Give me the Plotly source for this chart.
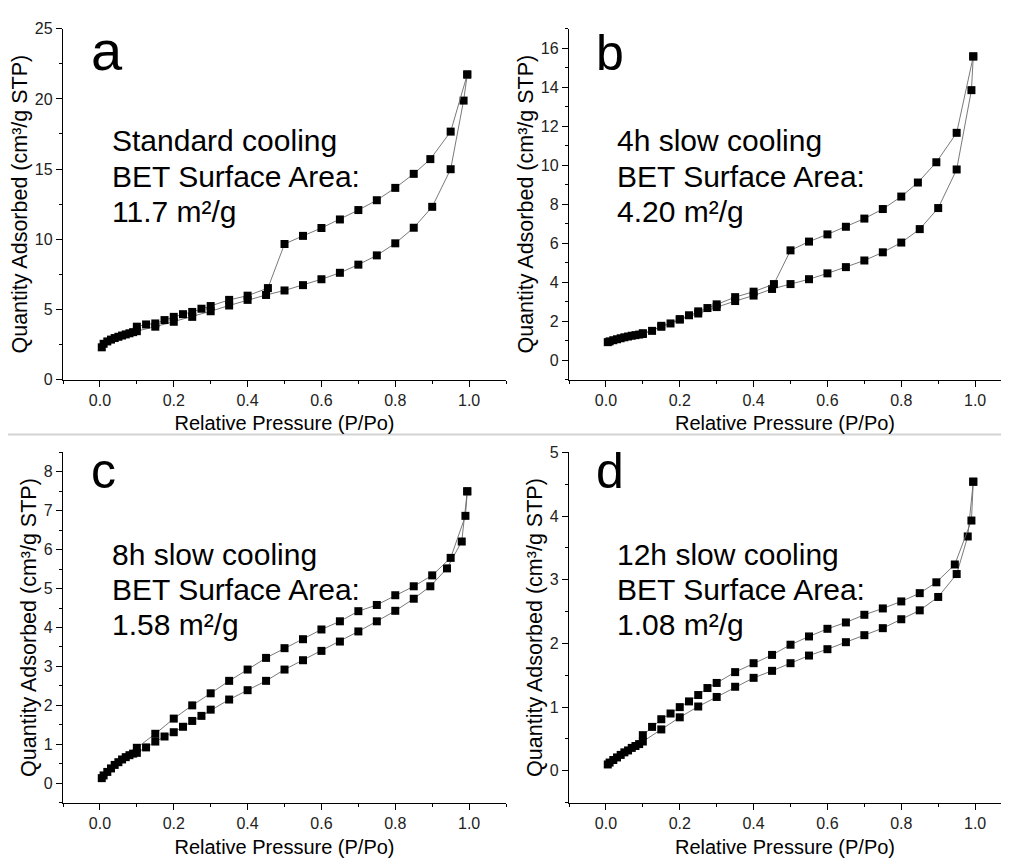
import plotly.graph_objects as go

# ---------------- data ----------------
# Panel a : Standard cooling
a_ads_p = [0.005, 0.01, 0.02, 0.03, 0.04, 0.05, 0.06, 0.07, 0.08, 0.09, 0.1, 0.15, 0.2, 0.25, 0.3,
           0.35, 0.4, 0.45, 0.5, 0.55, 0.6, 0.65, 0.7, 0.75, 0.8, 0.85, 0.9, 0.95, 0.985, 0.995]
a_ads_q = [2.3, 2.55, 2.72, 2.85, 2.96, 3.05, 3.14, 3.22, 3.3, 3.38, 3.45, 3.77, 4.12, 4.47, 4.87,
           5.28, 5.68, 6.03, 6.35, 6.73, 7.15, 7.61, 8.19, 8.85, 9.71, 10.82, 12.31, 14.99, 19.88, 21.74]
a_des_p = [0.995, 0.95, 0.895, 0.85, 0.8, 0.75, 0.7, 0.65, 0.6, 0.55, 0.5, 0.455, 0.4, 0.35, 0.3,
           0.275, 0.25, 0.225, 0.2, 0.175, 0.15, 0.125, 0.1]
a_des_q = [21.74, 17.67, 15.71, 14.66, 13.66, 12.78, 12.08, 11.41, 10.80, 10.24, 9.66, 6.52, 5.98, 5.68, 5.24,
           5.05, 4.82, 4.66, 4.47, 4.24, 4.0, 3.93, 3.77]

# Panel b : 4h slow cooling
b_ads_p = [0.005, 0.01, 0.02, 0.03, 0.04, 0.05, 0.06, 0.07, 0.08, 0.09, 0.1, 0.15, 0.2, 0.25, 0.3,
           0.35, 0.4, 0.45, 0.5, 0.55, 0.6, 0.65, 0.7, 0.75, 0.8, 0.85, 0.9, 0.95, 0.99, 0.995]
b_ads_q = [0.92, 0.96, 1.02, 1.07, 1.12, 1.17, 1.21, 1.25, 1.28, 1.31, 1.34, 1.71, 2.08, 2.39, 2.72,
           3.03, 3.31, 3.65, 3.90, 4.15, 4.45, 4.77, 5.11, 5.53, 6.03, 6.72, 7.80, 9.78, 13.85, 15.58]
b_des_p = [0.995, 0.95, 0.895, 0.845, 0.8, 0.75, 0.7, 0.65, 0.6, 0.55, 0.5, 0.455, 0.4, 0.35, 0.3,
           0.275, 0.25, 0.225, 0.2, 0.175, 0.15, 0.125, 0.1]
b_des_q = [15.58, 11.66, 10.15, 9.11, 8.39, 7.75, 7.26, 6.84, 6.45, 6.08, 5.63, 3.90, 3.51, 3.23, 2.86,
           2.67, 2.50, 2.30, 2.10, 1.88, 1.76, 1.50, 1.38]

# Panel c : 8h slow cooling
c_ads_p = [0.005, 0.01, 0.02, 0.03, 0.04, 0.05, 0.06, 0.07, 0.08, 0.09, 0.1, 0.125, 0.15, 0.175, 0.2,
           0.225, 0.25, 0.275, 0.3, 0.35, 0.4, 0.45, 0.5, 0.55, 0.6, 0.65, 0.7, 0.75, 0.8, 0.85, 0.895,
           0.94, 0.98, 0.995]
c_ads_q = [0.13, 0.2, 0.29, 0.38, 0.47, 0.54, 0.61, 0.67, 0.72, 0.76, 0.78, 0.92, 1.07, 1.20, 1.31,
           1.45, 1.60, 1.73, 1.89, 2.15, 2.39, 2.63, 2.92, 3.16, 3.40, 3.64, 3.90, 4.16, 4.43, 4.74, 5.06,
           5.52, 6.21, 7.50]
c_des_p = [0.995, 0.99, 0.95, 0.9, 0.85, 0.8, 0.75, 0.7, 0.65, 0.6, 0.55, 0.5, 0.45, 0.4, 0.35,
           0.3, 0.25, 0.2, 0.15, 0.1]
c_des_q = [7.50, 6.87, 5.79, 5.34, 5.06, 4.83, 4.58, 4.42, 4.16, 3.95, 3.70, 3.47, 3.22, 2.92, 2.63,
           2.31, 2.00, 1.66, 1.27, 0.91]

# Panel d : 12h slow cooling
d_ads_p = [0.005, 0.01, 0.02, 0.03, 0.04, 0.05, 0.06, 0.07, 0.08, 0.09, 0.1, 0.15, 0.2, 0.25, 0.3,
           0.35, 0.4, 0.45, 0.5, 0.55, 0.6, 0.65, 0.7, 0.75, 0.8, 0.85, 0.9, 0.95, 0.98, 0.995]
d_ads_q = [0.10, 0.13, 0.17, 0.21, 0.25, 0.29, 0.32, 0.36, 0.39, 0.42, 0.46, 0.65, 0.84, 1.01, 1.16,
           1.32, 1.46, 1.57, 1.69, 1.81, 1.91, 2.02, 2.13, 2.24, 2.38, 2.52, 2.73, 3.09, 3.68, 4.54]
d_des_p = [0.995, 0.99, 0.945, 0.895, 0.85, 0.8, 0.75, 0.7, 0.65, 0.6, 0.55, 0.5, 0.45, 0.4, 0.35,
           0.3, 0.275, 0.25, 0.225, 0.2, 0.175, 0.15, 0.125, 0.1]
d_des_q = [4.54, 3.93, 3.24, 2.96, 2.79, 2.66, 2.55, 2.45, 2.33, 2.23, 2.11, 1.98, 1.82, 1.69, 1.55,
           1.38, 1.30, 1.19, 1.09, 1.00, 0.90, 0.81, 0.69, 0.56]

panel_letters = ["a", "b", "c", "d"]
panel_lines = [
    ["Standard cooling", "BET Surface Area:", "11.7 m²/g"],
    ["4h slow cooling", "BET Surface Area:", "4.20 m²/g"],
    ["8h slow cooling", "BET Surface Area:", "1.58 m²/g"],
    ["12h slow cooling", "BET Surface Area:", "1.08 m²/g"],
]
x_title = "Relative Pressure (P/Po)"
y_title = "Quantity Adsorbed (cm³/g STP)"

# ---------------- layout geometry ----------------
PAGE_W, PAGE_H = 1009, 867
OFF = 8                      # default body margin of the html page
W, H = PAGE_W - 2 * OFF, PAGE_H - 2 * OFF
FONT = "Arial, Liberation Sans, sans-serif"


def px(X):
    return (X - OFF) / W


def py(Y):
    return 1 - (Y - OFF) / H


panels = [
    dict(data=(a_ads_p, a_ads_q, a_des_p, a_des_q), xpx=(63, 506), ypx=(21, 379),
         yr=[0, 25], dy=5, mdy=2.5),
    dict(data=(b_ads_p, b_ads_q, b_des_p, b_des_q), xpx=(569, 1001), ypx=(21, 379),
         yr=[-1, 17], dy=2, mdy=1),
    dict(data=(c_ads_p, c_ads_q, c_des_p, c_des_q), xpx=(63, 506), ypx=(453.3, 810.7),
         yr=[-0.5, 8.5], dy=1, mdy=0.5),
    dict(data=(d_ads_p, d_ads_q, d_des_p, d_des_q), xpx=(569, 1001), ypx=(453.3, 810.7),
         yr=[-0.5, 5], dy=1, mdy=0.5),
]
XSCALE = 369.2  # px per unit of P/Po

fig = go.Figure()
layout = dict(
    width=W, height=H, margin=dict(l=0, r=0, t=0, b=0),
    paper_bgcolor="white", plot_bgcolor="white", showlegend=False,
    font=dict(family=FONT, color="black"),
)
annotations = []

for i, p in enumerate(panels):
    n = "" if i == 0 else str(i + 1)
    xa, ya = "x" + n, "y" + n
    ads_p, ads_q, des_p, des_q = p["data"]
    for xs, ys in ((ads_p, ads_q), (des_p, des_q)):
        fig.add_trace(go.Scatter(
            x=xs, y=ys, xaxis=xa, yaxis=ya, mode="lines+markers",
            line=dict(color="#6a6a6a", width=0.9),
            marker=dict(symbol="square", size=8, color="black", line=dict(width=0)),
            cliponaxis=False,
        ))
    x0, x1 = p["xpx"]
    y0, y1 = p["ypx"]
    xr = [-0.1, -0.1 + (x1 - x0) / XSCALE]
    common = dict(showgrid=False, zeroline=False, showline=True, linecolor="black", linewidth=1.3,
                  ticks="outside", ticklen=6, tickwidth=1, tickcolor="black",
                  tickfont=dict(size=16, color="#222222", family=FONT))
    layout["xaxis" + n] = dict(
        common, domain=[px(x0), px(x1)], range=xr, anchor=ya,
        tickmode="linear", tick0=0, dtick=0.2, tickformat=".1f",
        minor=dict(ticks="outside", ticklen=3, tickcolor="black", dtick=0.1, tick0=0),
        title=dict(text=x_title, font=dict(size=20, family=FONT), standoff=8),
    )
    layout["yaxis" + n] = dict(
        common, domain=[py(y1), py(y0)], range=p["yr"], anchor=xa,
        tickmode="linear", tick0=0, dtick=p["dy"],
        minor=dict(ticks="outside", ticklen=3, tickcolor="black", dtick=p["mdy"], tick0=0),
        title=dict(text=y_title, font=dict(size=21.5, family=FONT), standoff=1),
    )
    left = i % 2 == 0
    top = i < 2
    # panel letter (baseline at 63 / 490 in page pixels)
    fs = 56 if i == 0 else 50
    base = 63 if top else 490
    annotations.append(dict(
        text=panel_letters[i], xref="paper", yref="paper",
        x=px(89 if left else 594), y=py(base - 0.35 * fs),
        xanchor="left", yanchor="middle", showarrow=False,
        font=dict(size=fs, family=FONT, color="black"),
    ))
    # description text, one annotation per line
    bases = [146, 182, 218] if top else [568, 604, 639]
    for line, b in zip(panel_lines[i], bases):
        annotations.append(dict(
            text=line, xref="paper", yref="paper",
            x=px(110 if left else 615), y=py(b - 0.35 * 30),
            xanchor="left", yanchor="middle", showarrow=False,
            font=dict(size=30, family=FONT, color="black"),
        ))

layout["annotations"] = annotations
layout["shapes"] = [dict(type="line", xref="paper", yref="paper", x0=0, x1=1,
                         y0=py(435), y1=py(435), line=dict(color="#d4d4d4", width=2))]
fig.update_layout(**layout)
fig.write_html("out.html")
